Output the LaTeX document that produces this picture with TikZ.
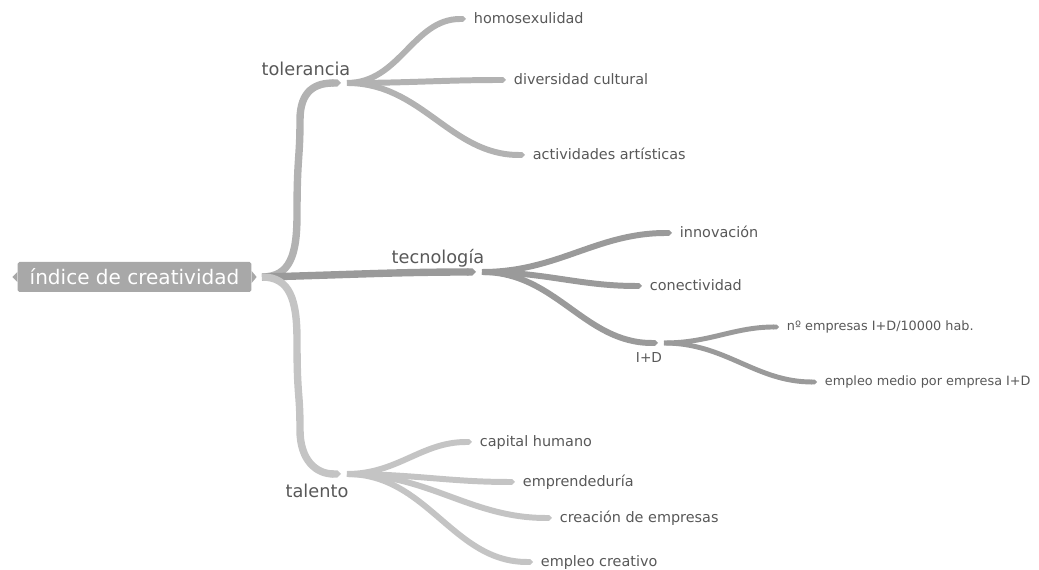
\documentclass[tikz,border=0pt]{standalone}
\usepackage{fontspec}
\setmainfont{DejaVu Sans}
\usepackage{xcolor}
\usetikzlibrary{positioning, arrows.meta}

\definecolor{tolgray}{HTML}{B2B2B2}
\definecolor{tecgray}{HTML}{9A9A9A}
\definecolor{talgray}{HTML}{C4C4C4}
\definecolor{txtgray}{HTML}{585858}
\definecolor{rootgray}{HTML}{A8A8A8}

\begin{document}
\begin{tikzpicture}[x=0.02cm, y=-0.02cm,
        root/.style={fill=rootgray, text=white, font=\fontsize{11.4}{13}\selectfont,
                     rounded corners=1pt, minimum height=0.6cm, inner xsep=0.24cm},
        topic/.style={text=txtgray, font=\fontsize{10.1}{12}\selectfont, inner sep=0pt},
        leaf/.style={text=txtgray, font=\fontsize{8.2}{10}\selectfont, inner sep=0pt,
                     outer xsep=4.5pt, anchor=west, text height=6.3pt, text depth=1.7pt},
        small/.style={leaf, font=\fontsize{7.3}{9}\selectfont, text height=5.6pt, text depth=1.5pt},
        main/.style={line width=4.2pt, -{Triangle Cap}},
        sub/.style={line width=3.4pt, -{Triangle Cap}},
        subsub/.style={line width=2.8pt, -{Triangle Cap}}]
        \useasboundingbox (0,0) rectangle (1039,570);

        % central topic
        \node[root] (root) at (134.5,277) {índice de creatividad};
        \fill[rootgray] (root.west) ++(0,-5) -- ++(-5,5) -- ++(5,5) -- cycle;
        \fill[rootgray] (root.east) ++(0,-6) -- ++(5,6) -- ++(-5,6) -- cycle;
        \coordinate (rj) at (262,277);

        % main topics
        \coordinate (tol) at (341,83);
        \coordinate (tec) at (476,272);
        \coordinate (tal) at (341,474);
        \node[topic] (toltxt) at (306,69) {tolerancia};
        \node[topic] (tectxt) at (438,258) {tecnología};
        \node[topic] (taltxt) at (317,491) {talento};

        \draw[main,tolgray] (rj) .. controls +(28,0) and +(0,40) .. (297,215)
              .. controls +(0,-60) and +(0,40) .. (300,120)
              .. controls +(0,-30) and +(-25,0) .. (tol);
        \draw[main,tecgray] (rj) .. controls +(80,-2) and +(-80,0) .. (tec);
        \draw[main,talgray] (rj) .. controls +(28,0) and +(0,-40) .. (297,340)
              .. controls +(0,60) and +(0,-40) .. (300,430)
              .. controls +(0,30) and +(-25,0) .. (tal);

        % tolerancia
        \coordinate (tolo) at (347,83);
        \node[leaf] (homo) at (466,19) {homosexulidad};
        \node[leaf] (divc) at (506,80) {diversidad cultural};
        \node[leaf] (acta) at (525,155) {actividades artísticas};
        \draw[sub,tolgray] (tolo) to[out=0,in=180] (homo);
        \draw[sub,tolgray] (tolo) to[out=0,in=180] (divc);
        \draw[sub,tolgray] (tolo) to[out=0,in=180] (acta);

        % tecnologia
        \coordinate (teco) at (482,272);
        \coordinate (idd) at (658,343);
        \node[leaf] (inno) at (672,233) {innovación};
        \node[leaf] (cone) at (642,286) {conectividad};
        \node[topic, font=\fontsize{7.8}{9}\selectfont] (iddtxt) at (649,358) {I+D};
        \draw[sub,tecgray] (teco) to[out=0,in=180] (inno);
        \draw[sub,tecgray] (teco) to[out=0,in=180] (cone);
        \draw[sub,tecgray] (teco) to[out=0,in=180] (idd);

        % I+D
        \coordinate (iddo) at (664,343);
        \node[small] (nemp) at (779,327) {nº empresas I+D/10000 hab.};
        \node[small] (emed) at (817,382) {empleo medio por empresa I+D};
        \draw[subsub,tecgray] (iddo) to[out=0,in=180] (nemp);
        \draw[subsub,tecgray] (iddo) to[out=0,in=180] (emed);

        % talento
        \coordinate (talo) at (347,474);
        \node[leaf] (caph) at (472,442) {capital humano};
        \node[leaf] (empr) at (515,482) {emprendeduría};
        \node[leaf] (crea) at (552,518) {creación de empresas};
        \node[leaf] (empc) at (533,562) {empleo creativo};
        \draw[sub,talgray] (talo) to[out=0,in=180] (caph);
        \draw[sub,talgray] (talo) to[out=0,in=180] (empr);
        \draw[sub,talgray] (talo) to[out=0,in=180] (crea);
        \draw[sub,talgray] (talo) to[out=0,in=180] (empc);
\end{tikzpicture}
\end{document}
